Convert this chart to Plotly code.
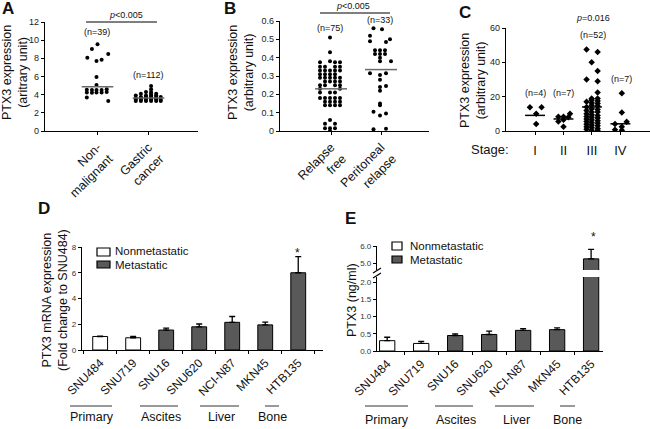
import plotly.graph_objects as go

W, H = 650, 429
def fx(p): return p / W
def fy(p): return 1 - p / H

FONT = "Liberation Sans, Arial, sans-serif"
INK = "#111111"

# ---------------- DATA ----------------
# Panel A
a_categories = ["Non-<br>malignant", "Gastric<br>cancer"]
a_nonmal_values = [9.55, 9.03, 8.48, 8.07, 7.85, 7.71, 5.95, 5.07, 4.55, 4.5, 4.5, 4.5, 4.6,
                   4.25, 4.2, 4.25, 4.25, 4.3, 3.7, 3.3]
a_nonmal_offsets = [0.0, -0.11, 0.21, -0.2, 0.08, -0.02, -0.02, -0.02, -0.21, -0.11, -0.02, 0.08, 0.18,
                    -0.21, -0.11, -0.02, 0.08, 0.18, -0.21, 0.21]
a_gastric_values = [3.3, 3.3, 3.3, 3.3, 3.3, 3.3, 3.45, 3.45, 3.45, 3.45, 3.45, 3.45,
                    3.6, 3.6, 3.6, 3.6, 3.6, 3.75, 3.75, 3.75, 3.75, 3.75,
                    3.9, 3.9, 3.9, 3.9, 4.1, 4.1, 4.1, 4.3, 4.3, 4.6, 4.95]
a_gastric_offsets = [-0.25, -0.15, -0.05, 0.05, 0.15, 0.24, -0.25, -0.15, -0.05, 0.05, 0.15, 0.24,
                     -0.25, -0.15, -0.05, 0.05, 0.15, -0.15, -0.05, 0.05, 0.15, 0.24,
                     -0.25, -0.05, 0.05, 0.15, -0.15, 0.05, 0.15, -0.05, 0.05, 0.05, 0.05]
a_means = [4.88, 3.63]
a_counts = ["(n=39)", "(n=112)"]
a_yticks = [0, 2, 4, 6, 8, 10, 12]

# Panel B
b_categories = ["Relapse<br>free", "Peritoneal<br>relapse"]
b_free_values = [0.51, 0.43, 0.375, 0.375, 0.375, 0.38,
                 0.35, 0.35, 0.35, 0.35,
                 0.33, 0.33, 0.33, 0.33, 0.33,
                 0.31, 0.31, 0.31, 0.31,
                 0.29, 0.29, 0.29, 0.29, 0.29,
                 0.27, 0.27, 0.27, 0.27,
                 0.25, 0.25, 0.25, 0.25,
                 0.23, 0.23,
                 0.21, 0.21, 0.21,
                 0.18, 0.18, 0.18, 0.18, 0.18,
                 0.16, 0.16, 0.16, 0.16,
                 0.14, 0.14, 0.14, 0.14,
                 0.06, 0.04, 0.04, 0.015, 0.015, 0.015, 0.0]
b_free_offsets = [-0.02, -0.02, -0.22, 0.08, 0.18, -0.02,
                  -0.22, -0.12, 0.08, 0.18,
                  -0.22, -0.12, -0.02, 0.08, 0.18,
                  -0.22, -0.12, -0.02, 0.08,
                  -0.22, -0.12, -0.02, 0.08, 0.18,
                  -0.12, -0.02, 0.08, 0.18,
                  -0.22, -0.12, 0.08, 0.18,
                  -0.22, 0.18,
                  -0.22, -0.02, 0.08,
                  -0.22, -0.12, -0.02, 0.08, 0.18,
                  -0.12, -0.02, 0.08, 0.18,
                  -0.12, -0.02, 0.08, 0.18,
                  -0.02, -0.12, 0.08, -0.12, -0.02, 0.08, -0.02]
b_relapse_values = [0.56, 0.555, 0.52, 0.50, 0.49, 0.485,
                    0.44, 0.44, 0.44, 0.42, 0.42, 0.42, 0.40, 0.38, 0.38,
                    0.315, 0.315, 0.305, 0.28, 0.245, 0.24, 0.22,
                    0.15, 0.14, 0.105, 0.095, 0.085, 0.01, 0.012]
b_relapse_offsets = [-0.15, 0.02, -0.22, 0.18, -0.22, 0.1,
                     -0.12, -0.02, 0.08, -0.12, -0.02, 0.08, -0.02, -0.02, 0.2,
                     -0.22, 0.1, -0.02, -0.02, 0.1, -0.02, -0.02,
                     -0.02, -0.02, -0.15, 0.1, -0.02, -0.15, 0.1]
b_means = [0.23, 0.335]
b_counts = ["(n=75)", "(n=33)"]
b_yticks = [0, 0.1, 0.2, 0.3, 0.4, 0.5, 0.6]
b_yticklabels = ["0", "0.1", "0.2", "0.3", "0.4", "0.5", "0.6"]

# Panel C
c_stages = ["I", "II", "III", "IV"]
c_values = [
    [13.8, 13.8, 10.0, 4.1],
    [10.0, 8.3, 8.3, 8.0, 6.5, 5.5, 2.5],
    [47.5, 30.0, 17.0, 14.0, 12.0, 10.0, 8.5, 7.0, 5.5, 4.0, 2.5, 1.0,
     40.0, 19.0, 18.0, 16.5, 15.0, 13.0, 11.0, 9.5, 8.0, 6.5, 5.0, 3.5, 2.0, 0.5,
     46.0, 35.0, 29.0, 22.5, 19.0, 17.5, 16.0, 14.5, 12.5, 11.0, 9.0, 7.5, 6.0, 4.5, 3.0, 1.5, 0.5],
    [22.0, 10.8, 5.4, 4.1, 2.5, 0.8, 0.5],
]
c_offsets = [
    [-0.18, 0.23, 0.04, 0.04],
    [0.23, -0.18, 0.0, 0.17, 0.0, -0.18, 0.0],
    [-0.19] * 12 + [-0.01] * 14 + [0.2] * 17,
    [0.05, 0.05, 0.22, -0.19, 0.05, -0.19, 0.05],
]
c_means = [9.1, 7.0, 14.0, 4.2]
c_counts = ["(n=4)", "(n=7)", "(n=52)", "(n=7)"]
c_yticks = [0, 20, 40, 60]

# Panels D and E
cell_lines = ["SNU484", "SNU719", "SNU16", "SNU620", "NCI-N87", "MKN45", "HTB135"]
metastatic = [False, False, True, True, True, True, True]
d_values = [1.05, 0.95, 1.55, 1.8, 2.15, 1.95, 6.0]
d_errors = [0.03, 0.1, 0.15, 0.22, 0.45, 0.22, 1.25]
d_yticks = [0, 2, 4, 6, 8]
e_values = [0.3, 0.22, 0.45, 0.48, 0.6, 0.62, 5.25]
e_errors = [0.1, 0.06, 0.05, 0.1, 0.05, 0.05, 0.55]
e_low_ticks = [0.0, 0.5, 1.0, 1.5, 2.0]
e_high_ticks = [5.0, 6.0]
groups = ["Primary", "Ascites", "Liver", "Bone"]
legend_labels = ["Nonmetastatic", "Metastatic"]

# ---------------- FIGURE ----------------
fig = go.Figure()
dot = dict(color="black", size=4, symbol="circle")

def add_swarm(values, offsets, center, xa, ya, marker):
    fig.add_trace(go.Scatter(x=[center + o for o in offsets], y=values, mode="markers",
                             marker=marker, xaxis=xa, yaxis=ya, showlegend=False, hoverinfo="y"))

def add_mean(center, m, half, xa, ya, color):
    fig.add_trace(go.Scatter(x=[center - half, center + half], y=[m, m], mode="lines",
                             line=dict(color=color, width=1.5), xaxis=xa, yaxis=ya,
                             showlegend=False, hoverinfo="skip"))

# A
add_swarm(a_nonmal_values, a_nonmal_offsets, 0, "x", "y", dot)
add_swarm(a_gastric_values, a_gastric_offsets, 1, "x", "y", dot)
for i, m in enumerate(a_means):
    add_mean(i, m, 0.31, "x", "y", "#6a6a6a")
# B
add_swarm(b_free_values, b_free_offsets, 0, "x2", "y2", dot)
add_swarm(b_relapse_values, b_relapse_offsets, 1, "x2", "y2", dot)
for i, m in enumerate(b_means):
    add_mean(i, m, 0.32, "x2", "y2", "#6a6a6a")
# C
for i, vals in enumerate(c_values):
    add_swarm(vals, c_offsets[i], i, "x3", "y3", dict(color="black", size=5, symbol="diamond"))
    add_mean(i, c_means[i], 0.35, "x3", "y3", "black")

# D and E bars
FILL = {False: "white", True: "#595959"}
def add_bars(values, errors, xa, ya, only=None):
    for flag in (False, True):
        idx = [i for i in range(len(cell_lines)) if metastatic[i] == flag and (only is None or i in only)]
        if not idx:
            continue
        fig.add_trace(go.Bar(
            x=[cell_lines[i] for i in idx], y=[values[i] for i in idx],
            error_y=dict(type="data", array=[errors[i] for i in idx], arrayminus=[0] * len(idx),
                         symmetric=False, color="black", thickness=1.3, width=3),
            marker=dict(color=FILL[flag], line=dict(color="black", width=1)),
            width=0.45, xaxis=xa, yaxis=ya, showlegend=False,
            name=legend_labels[int(flag)]))

add_bars(d_values, d_errors, "x4", "y4")
add_bars(e_values, e_errors, "x5", "y5", only=[0, 1, 2, 3, 4, 5])
add_bars(e_values, [0] * 7, "x5", "y5", only=[6])
add_bars(e_values, e_errors, "x6", "y6", only=[6])

axis_common = dict(showgrid=False, zeroline=False, showline=True, linecolor="black", linewidth=1.2,
                   ticks="outside", ticklen=3, tickcolor="black", tickwidth=1, automargin=False,
                   tickfont=dict(family=FONT, size=9, color="#222"))

lay = dict(template="none", width=W, height=H, margin=dict(l=0, r=0, t=0, b=0, pad=0),
           paper_bgcolor="white", plot_bgcolor="white", barmode="overlay", showlegend=False,
           font=dict(family=FONT, color=INK))

# A axes
lay["xaxis"] = dict(axis_common, domain=[fx(45), fx(198)], range=[-1.03, 1.97], anchor="y",
                    tickvals=[0, 1], ticktext=a_categories, tickangle=-45,
                    tickfont=dict(family=FONT, size=12.5, color=INK))
lay["yaxis"] = dict(axis_common, domain=[fy(131), fy(22)], range=[0, 12], anchor="x", tickvals=a_yticks)
# B axes
lay["xaxis2"] = dict(axis_common, domain=[fx(280), fx(429)], range=[-1.02, 1.96], anchor="y2",
                     tickvals=[0, 1], ticktext=b_categories, tickangle=-45,
                     tickfont=dict(family=FONT, size=12.5, color=INK))
lay["yaxis2"] = dict(axis_common, domain=[fy(131), fy(21)], range=[0, 0.6], anchor="x2",
                     tickvals=b_yticks, ticktext=b_yticklabels)
# C axes
lay["xaxis3"] = dict(axis_common, domain=[fx(506), fx(650)], range=[-1.02, 4.04], anchor="y3",
                     tickvals=[0, 1, 2, 3], ticktext=c_stages, ticklabelstandoff=4,
                     tickfont=dict(family=FONT, size=13, color=INK))
lay["yaxis3"] = dict(axis_common, domain=[fy(131), fy(28)], range=[0, 60], anchor="x3", tickvals=c_yticks)
# D axes
lay["xaxis4"] = dict(axis_common, domain=[fx(82), fx(323)], range=[-0.55, 6.75], anchor="y4",
                     type="category", categoryorder="array", categoryarray=cell_lines,
                     tickson="boundaries", tickangle=-45,
                     tickfont=dict(family=FONT, size=12, color=INK))
lay["yaxis4"] = dict(axis_common, domain=[fy(350), fy(247)], range=[0, 8], anchor="x4", tickvals=d_yticks,
                     tickfont=dict(family=FONT, size=8, color="#333"))
# E axes
lay["xaxis5"] = dict(axis_common, domain=[fx(377), fx(603)], range=[-0.3, 6.35], anchor="y5",
                     type="category", categoryorder="array", categoryarray=cell_lines,
                     tickson="boundaries", tickangle=-45,
                     tickfont=dict(family=FONT, size=12, color=INK))
lay["yaxis5"] = dict(axis_common, domain=[fy(351), fy(277)], range=[0, 2.15], anchor="x5",
                     tickvals=e_low_ticks, tickformat=".1f",
                     tickfont=dict(family=FONT, size=8, color="#333"))
lay["xaxis6"] = dict(domain=[fx(377), fx(603)], range=[-0.3, 6.35], anchor="y6", visible=False,
                     automargin=False,
                     type="category", categoryorder="array", categoryarray=cell_lines)
lay["yaxis6"] = dict(axis_common, domain=[fy(270), fy(246)], range=[4.6, 6.0], anchor="x6",
                     tickvals=e_high_ticks, tickformat=".1f",
                     tickfont=dict(family=FONT, size=8, color="#333"))

ann = []
def text(t, x, y, size=9, **kw):
    d = dict(text=t, x=fx(x), y=fy(y), xref="paper", yref="paper", showarrow=False,
             font=dict(family=FONT, size=size, color=INK), xanchor="center", yanchor="middle")
    d.update(kw)
    ann.append(d)

# panel letters
for letter, x, y in [("A", 8, 8), ("B", 230, 9), ("C", 465, 12), ("D", 44, 208), ("E", 350, 218)]:
    text("<b>%s</b>" % letter, x, y, size=17)

# y titles
text("PTX3 expression<br>(aritrary unit)", 15, 73, size=12.5, textangle=-90)
text("PTX3 expression<br>(arbitrary unit)", 241, 73, size=12.5, textangle=-90)
text("PTX3 expression<br>(arbitrary unit)", 473, 80, size=12.5, textangle=-90)
text("PTX3 mRNA expression<br>(Fold change to SNU484)", 55, 300, size=12.5, textangle=-90)
text("PTX3 (ng/ml)", 352, 300, size=12.5, textangle=-90)

# p-values & counts
text("<i>p</i>&lt;0.005", 126, 15, size=9)
text("<i>p</i>&lt;0.005", 353, 6, size=9)
text("<i>p</i>=0.016", 593, 18, size=9)
for t, x, y in [(a_counts[0], 97, 32), (a_counts[1], 148, 75), (b_counts[0], 330, 28), (b_counts[1], 380, 20),
                (c_counts[0], 535, 93), (c_counts[1], 563, 93), (c_counts[2], 593, 35), (c_counts[3], 621, 79)]:
    text(t, x, y, size=9)
text("Stage:", 490, 149, size=13)

# stars
text("*", 297, 253, size=12)
text("*", 593, 237, size=12)

# group labels
for g, x in zip(groups, [92, 161, 221, 272]):
    text(g, x, 417, size=12.5)
for g, x in zip(groups, [387, 456, 516, 567]):
    text(g, x, 420, size=12.5)

# legends
text(legend_labels[0], 113, 251, size=11.5, xanchor="left")
text(legend_labels[1], 113, 265, size=11.5, xanchor="left")
text(legend_labels[0], 408, 245.5, size=11.5, xanchor="left")
text(legend_labels[1], 408, 259.5, size=11.5, xanchor="left")

shapes = []
def line(x0, y0, x1, y1, color="#555", width=1.5):
    shapes.append(dict(type="line", xref="paper", yref="paper", x0=fx(x0), y0=fy(y0), x1=fx(x1), y1=fy(y1),
                       line=dict(color=color, width=width)))
def rect(x0, y0, x1, y1, fill):
    shapes.append(dict(type="rect", xref="paper", yref="paper", x0=fx(x0), y0=fy(y0), x1=fx(x1), y1=fy(y1),
                       fillcolor=fill, line=dict(color="black", width=1.2)))

line(86, 22, 157, 22)
line(320, 13, 390, 13)
for x0, x1 in [(70, 112), (140, 178), (200, 239), (265, 279)]:
    line(x0, 406, x1, 406, color="#777")
for x0, x1 in [(365, 408), (435, 473), (495, 534), (560, 575)]:
    line(x0, 406, x1, 406, color="#777")
rect(97, 248, 110, 256, "white")
rect(97, 261, 110, 268, "#595959")
rect(392, 242, 402, 250, "white")
rect(392, 256, 402, 263, "#595959")
# axis break marks
line(373, 273, 381, 268, color="black", width=1.2)
line(373, 278, 381, 273, color="black", width=1.2)

lay["annotations"] = ann
lay["shapes"] = shapes
fig.update_layout(**lay)
fig.write_html("out.html", config={"displayModeBar": False},
               post_script="document.body.style.margin='0px';document.body.style.padding='0px';")
